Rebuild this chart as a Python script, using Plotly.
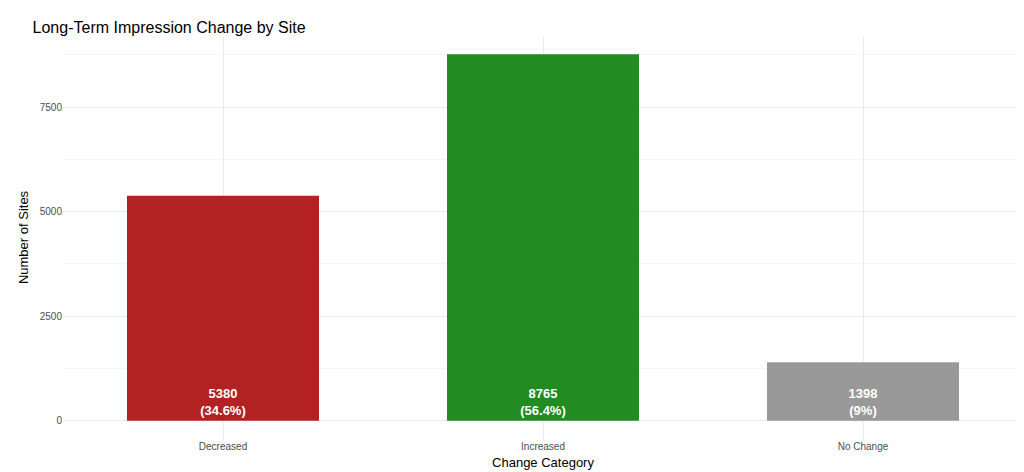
import plotly.graph_objects as go

categories = ["Decreased", "Increased", "No Change"]
counts = [5380, 8765, 1398]
pct_labels = ["34.6%", "56.4%", "9%"]
colors = ["#B22222", "#228B22", "#999999"]

labels = [f"<b>{c}<br>({p})</b>" for c, p in zip(counts, pct_labels)]

fig = go.Figure(go.Bar(
    x=categories, y=counts, width=0.6,
    marker=dict(color=colors, line=dict(width=0)),
    text=labels, textposition="inside", insidetextanchor="start",
    textfont=dict(color="white", size=13, family="Liberation Sans"),
    textangle=0,
))

fig.update_layout(
    width=1024, height=472,
    margin=dict(l=55, r=9, t=28, b=41),
    plot_bgcolor="white", paper_bgcolor="white",
    font=dict(family="Liberation Sans", color="#333333"),
    title=dict(text="Long-Term Impression Change by Site", x=0.024, y=0.97,
               xanchor="left", yanchor="top", font=dict(size=16, color="black")),
    showlegend=False,
)
fig.update_xaxes(
    title=dict(text="Change Category", font=dict(size=13, color="black"), standoff=6),
    showgrid=True, gridcolor="#EBEBEB", tickfont=dict(size=10, color="#4D4D4D"),
    ticks="", zeroline=False,
)
fig.update_yaxes(
    title=dict(text="Number of Sites", font=dict(size=13, color="black"), standoff=8),
    range=[-438, 9203], tickvals=[0, 2500, 5000, 7500],
    showgrid=True, gridcolor="#EBEBEB", zeroline=False,
    minor=dict(tickvals=[1250, 3750, 6250, 8750], showgrid=True, gridcolor="#F5F5F5"),
    tickfont=dict(size=10, color="#4D4D4D"),
)

fig.write_html("out.html")
